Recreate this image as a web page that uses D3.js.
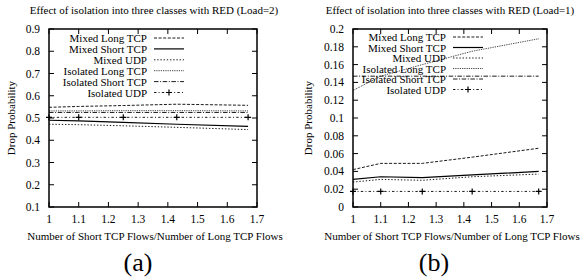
<!DOCTYPE html>
<html lang="en">
<head>
  <meta charset="UTF-8">
  <title>Effect of isolation into three classes with RED</title>
  <style>
    body {
      margin: 0;
      background: #fff;
    }
  </style>
</head>
<body>
  <svg id="chart" width="582" height="278" font-family="'Liberation Serif', 'DejaVu Serif', serif"></svg>

  <script src="https://d3js.org/d3.v7.min.js"></script>
  <script>
    // ratio of short to long TCP flows
    const flowRatios = [1, 1.1, 1.25, 1.43, 1.67];

    const seriesNames = ["Mixed Long TCP", "Mixed Short TCP", "Mixed UDP",
                         "Isolated Long TCP", "Isolated Short TCP", "Isolated UDP"];

    // (a) Load=2
    const mixedLongA   = [0.548, 0.552, 0.556, 0.562, 0.557];
    const mixedShortA  = [0.490, 0.487, 0.480, 0.472, 0.462];
    const mixedUdpA    = [0.472, 0.470, 0.465, 0.458, 0.448];
    const isoLongA     = [0.532, 0.532, 0.533, 0.533, 0.532];
    const isoShortA    = [0.525, 0.525, 0.525, 0.525, 0.525];
    const isoUdpA      = [0.503, 0.503, 0.503, 0.503, 0.503];

    // (b) Load=1
    const mixedLongB   = [0.042, 0.049, 0.049, 0.056, 0.066];
    const mixedShortB  = [0.031, 0.034, 0.033, 0.036, 0.040];
    const mixedUdpB    = [0.028, 0.031, 0.030, 0.034, 0.037];
    const isoLongB     = [0.131, 0.147, 0.160, 0.175, 0.189];
    const isoShortB    = [0.147, 0.147, 0.147, 0.147, 0.147];
    const isoUdpB      = [0.0175, 0.0175, 0.0175, 0.0175, 0.0175];

    const xTicks = [1, 1.1, 1.2, 1.3, 1.4, 1.5, 1.6, 1.7];
    const yTicksA = [0.1, 0.2, 0.3, 0.4, 0.5, 0.6, 0.7, 0.8, 0.9];
    const yTicksB = [0, 0.02, 0.04, 0.06, 0.08, 0.1, 0.12, 0.14, 0.16, 0.18, 0.2];

    // line styles in legend order
    const dashes = ["3,1.6", null, "1.4,1.8", "0.8,1", "4.5,1.6,1,1.6", "2.4,2.2,1,2.2"];

    const svg = d3.select("#chart");

    function drawPanel(p) {
      const g = svg.append("g");
      const x = d3.scaleLinear().domain([1, 1.7]).range([p.left, p.right]);
      const y = d3.scaleLinear().domain(p.yDomain).range([p.bottom, p.top]);

      // title
      g.append("text")
        .attr("x", p.titleX).attr("y", 10)
        .attr("text-anchor", "middle").attr("dominant-baseline", "central")
        .attr("font-size", 11)
        .text(p.title);

      // inward ticks, mirrored on both sides
      const tl = 5;
      g.append("g").selectAll("line").data(p.yTicks).enter().append("line")
        .attr("x1", p.left).attr("x2", p.left + tl)
        .attr("y1", d => y(d)).attr("y2", d => y(d))
        .attr("stroke", "#000").attr("stroke-width", 1);
      g.append("g").selectAll("line").data(p.yTicks).enter().append("line")
        .attr("x1", p.right).attr("x2", p.right - tl)
        .attr("y1", d => y(d)).attr("y2", d => y(d))
        .attr("stroke", "#000").attr("stroke-width", 1);
      g.append("g").selectAll("line").data(xTicks).enter().append("line")
        .attr("x1", d => x(d)).attr("x2", d => x(d))
        .attr("y1", p.bottom).attr("y2", p.bottom - tl)
        .attr("stroke", "#000").attr("stroke-width", 1);
      g.append("g").selectAll("line").data(xTicks).enter().append("line")
        .attr("x1", d => x(d)).attr("x2", d => x(d))
        .attr("y1", p.top).attr("y2", p.top + tl)
        .attr("stroke", "#000").attr("stroke-width", 1);

      // tick labels
      g.append("g").selectAll("text").data(p.yTicks).enter().append("text")
        .attr("x", p.left - 9).attr("y", d => y(d))
        .attr("text-anchor", "end").attr("dominant-baseline", "central")
        .attr("font-size", 11.5)
        .text(d => d3.format("")(+d.toFixed(2)));
      g.append("g").selectAll("text").data(xTicks).enter().append("text")
        .attr("x", d => x(d)).attr("y", 219)
        .attr("text-anchor", "middle").attr("dominant-baseline", "central")
        .attr("font-size", 11.5)
        .text(d => d3.format("")(+d.toFixed(1)));

      // axis titles
      g.append("text")
        .attr("x", (p.left + p.right) / 2 + 2).attr("y", 236)
        .attr("text-anchor", "middle").attr("dominant-baseline", "central")
        .attr("font-size", 11)
        .text("Number of Short TCP Flows/Number of Long TCP Flows");
      g.append("text")
        .attr("transform", `translate(${p.yLabelX},${(p.top + p.bottom) / 2}) rotate(-90)`)
        .attr("text-anchor", "middle").attr("dominant-baseline", "central")
        .attr("font-size", 11)
        .text("Drop Probability");

      // panel letter
      g.append("text")
        .attr("x", p.letterX).attr("y", 262)
        .attr("text-anchor", "middle").attr("dominant-baseline", "central")
        .attr("font-size", 26)
        .text(p.letter);

      // legend
      const leg = g.append("g");
      seriesNames.forEach((name, i) => {
        const ly = p.legendTop + i * p.legendStep;
        leg.append("text")
          .attr("x", p.legendTextX).attr("y", ly)
          .attr("text-anchor", "end").attr("dominant-baseline", "central")
          .attr("font-size", 11)
          .text(name);
        leg.append("line")
          .attr("x1", p.legendTextX + 7).attr("x2", p.legendTextX + 37)
          .attr("y1", ly).attr("y2", ly)
          .attr("stroke", "#000").attr("stroke-width", i === 1 ? 1.2 : 0.9)
          .attr("stroke-dasharray", dashes[i]);
        if (i === 5) {
          const cx = p.legendTextX + 22;
          leg.append("path")
            .attr("d", `M${cx - 3},${ly}H${cx + 3}M${cx},${ly - 3}V${ly + 3}`)
            .attr("stroke", "#000").attr("stroke-width", 1.2);
        }
      });

      // data lines
      const line = d3.line()
        .x((d, i) => x(flowRatios[i]))
        .y(d => y(d));
      p.series.forEach((vals, i) => {
        g.append("path")
          .datum(vals)
          .attr("d", line)
          .attr("fill", "none")
          .attr("stroke", "#000")
          .attr("stroke-width", i === 1 ? 1.2 : 0.9)
          .attr("stroke-dasharray", dashes[i]);
      });
      // points on Isolated UDP
      g.append("g").selectAll("path").data(p.series[5]).enter().append("path")
        .attr("d", (d, i) => {
          const cx = x(flowRatios[i]), cy = y(d);
          return `M${cx - 3},${cy}H${cx + 3}M${cx},${cy - 3}V${cy + 3}`;
        })
        .attr("stroke", "#000").attr("stroke-width", 1.2);

      // frame
      g.append("rect")
        .attr("x", p.left).attr("y", p.top)
        .attr("width", p.right - p.left).attr("height", p.bottom - p.top)
        .attr("fill", "none").attr("stroke", "#000").attr("stroke-width", 1.5);
    }

    drawPanel({
      left: 49, right: 257, top: 29, bottom: 207,
      yDomain: [0.1, 0.9], yTicks: yTicksA,
      title: "Effect of isolation into three classes with RED (Load=2)",
      titleX: 154, yLabelX: 11, letterX: 138, letter: "(a)",
      legendTextX: 147, legendTop: 38, legendStep: 10.9,
      series: [mixedLongA, mixedShortA, mixedUdpA, isoLongA, isoShortA, isoUdpA]
    });

    drawPanel({
      left: 353, right: 547, top: 29, bottom: 207,
      yDomain: [0, 0.2], yTicks: yTicksB,
      title: "Effect of isolation into three classes with RED (Load=1)",
      titleX: 450, yLabelX: 308, letterX: 434, letter: "(b)",
      legendTextX: 446, legendTop: 37, legendStep: 10.5,
      series: [mixedLongB, mixedShortB, mixedUdpB, isoLongB, isoShortB, isoUdpB]
    });
  </script>
</body>
</html>
